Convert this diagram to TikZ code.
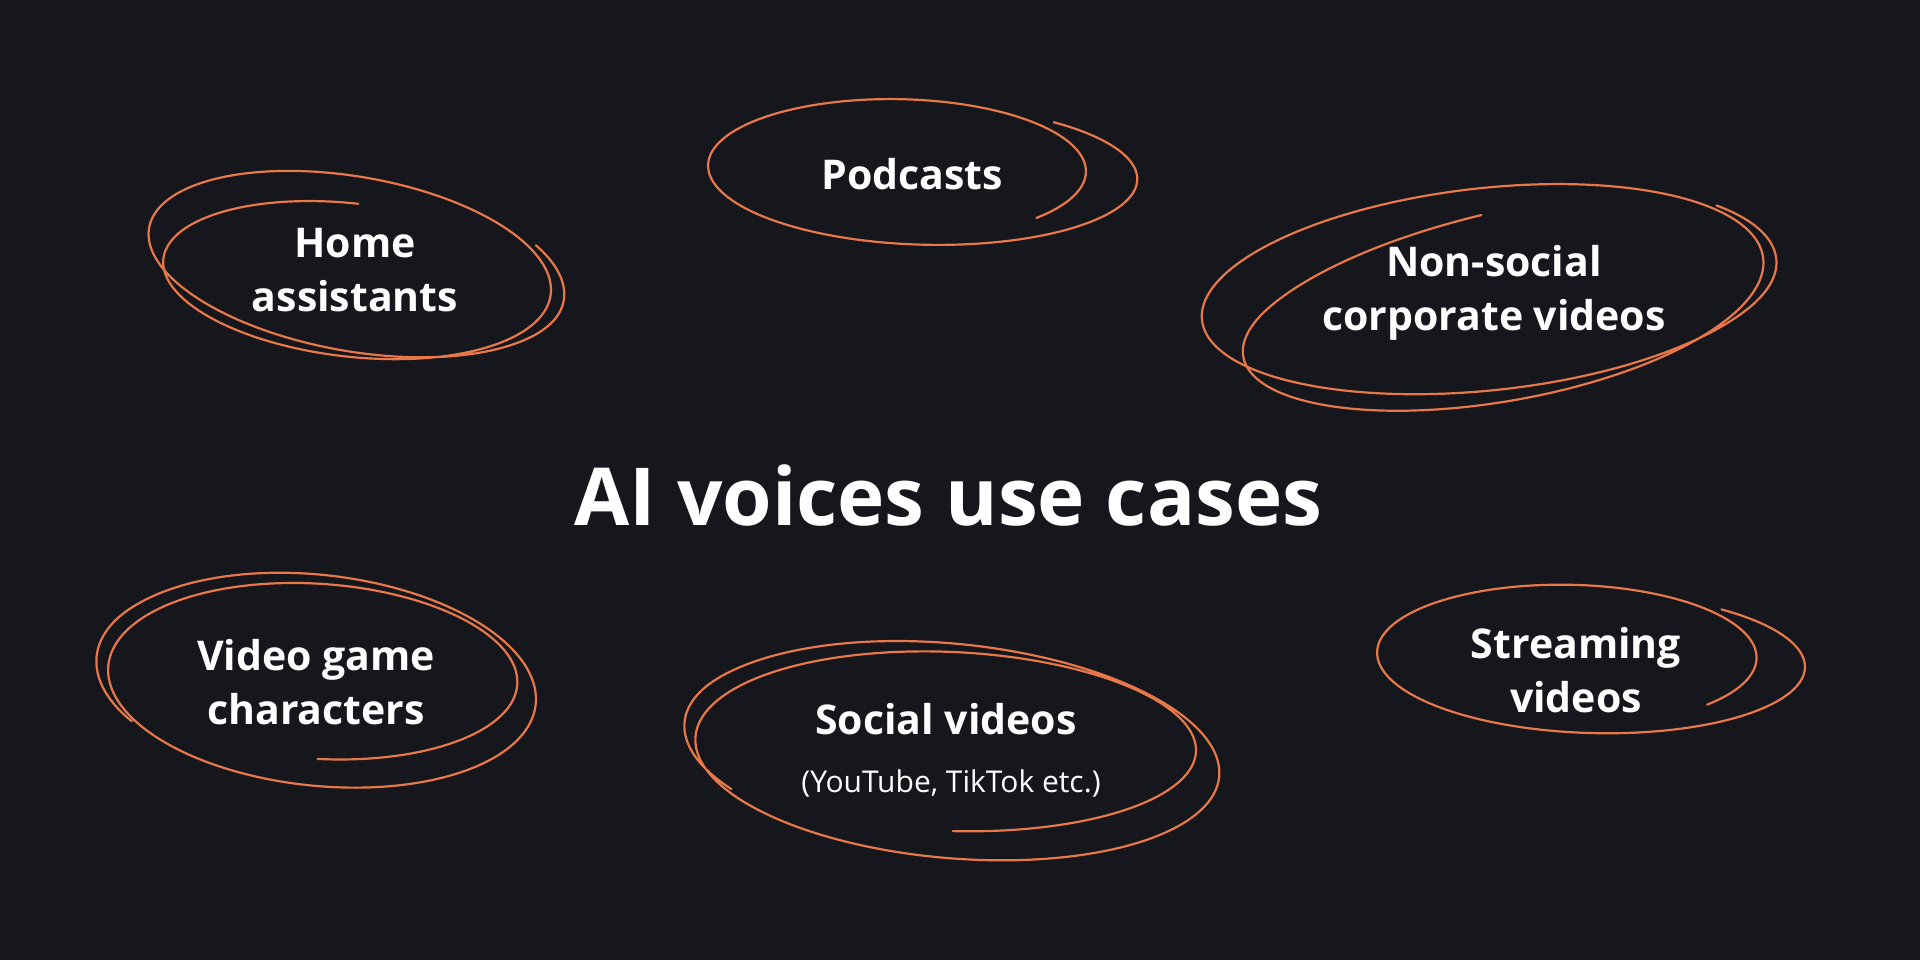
\documentclass[tikz,border=0pt]{standalone}
\usepackage{fontspec}
\setmainfont{Open Sans}
\definecolor{bgdark}{HTML}{15171C}
\definecolor{scribcol}{HTML}{E8784A}
\makeatletter
\def\sc@setA#1,#2,#3,#4,#5\@nil{\def\scXa{#1}\def\scYa{#2}\def\scAa{#3}\def\scBa{#4}\def\scPa{#5}}
\def\sc@setB#1,#2,#3,#4,#5\@nil{\def\scXb{#1}\def\scYb{#2}\def\scAb{#3}\def\scBb{#4}\def\scPb{#5}}
% #1 start params {cx,cy,a,b,rot}, #2 end params, #3 start angle, #4 end angle,
% #5 inward hook at the start, #6 inward hook at the end (smooth quadratic ramps)
\newcommand\scribloop[6]{%
  \sc@setA#1\@nil\sc@setB#2\@nil
  \draw[scrib] plot[domain=0:1, samples=400, variable=\s]
  ({(\scXa)+((\scXb)-(\scXa))*\s
     + (1-(#5)*(max(0,1-\s/0.09))^2-(#6)*(max(0,(\s-0.91)/0.09))^2)*(
       ((\scAa)+((\scAb)-(\scAa))*\s)*cos((#3)+((#4)-(#3))*\s)*cos((\scPa)+((\scPb)-(\scPa))*\s)
     - ((\scBa)+((\scBb)-(\scBa))*\s)*sin((#3)+((#4)-(#3))*\s)*sin((\scPa)+((\scPb)-(\scPa))*\s))},
   {(\scYa)+((\scYb)-(\scYa))*\s
     + (1-(#5)*(max(0,1-\s/0.09))^2-(#6)*(max(0,(\s-0.91)/0.09))^2)*(
       ((\scAa)+((\scAb)-(\scAa))*\s)*cos((#3)+((#4)-(#3))*\s)*sin((\scPa)+((\scPb)-(\scPa))*\s)
     + ((\scBa)+((\scBb)-(\scBa))*\s)*sin((#3)+((#4)-(#3))*\s)*cos((\scPa)+((\scPb)-(\scPa))*\s))});
}
\makeatother
\tikzset{
  scrib/.style={draw=scribcol, line width=2.2pt, line cap=round, line join=round},
  lbl/.style={text=white, align=center, inner sep=0pt, anchor=base,
    font=\fontsize{41}{54}\selectfont\bfseries},
  sublbl/.style={text=white, align=center, inner sep=0pt, anchor=base,
    font=\fontsize{30}{36}\selectfont},
  titlelbl/.style={text=white, align=center, inner sep=0pt, anchor=base,
    font=\fontsize{80}{96}\selectfont\bfseries}
}
\begin{document}
\begin{tikzpicture}[x=1pt, y=-1pt]
\fill[bgdark] (0,0) rectangle (1920,960);
\useasboundingbox (0,0) rectangle (1920,960);

% scribbled loops
\scribloop{351.5,281.5,185,78,5}{356,252,219,97.3,11.7}{-90}{-750}{0}{0.09}
\scribloop{926.5,176,218.5,71,2}{894,168,186,71,2}{-55}{400}{0}{0}
\scribloop{1501,315,252.3,92.6,-11.1}{1480.9,272.8,303.6,114,-4.2}{-90}{-750}{-0.1}{0.1}
\scribloop{318,690,229.7,118,7}{317,673.5,195.7,85.3,2}{150}{810}{0.09}{0}
\scribloop{954.2,761,279.8,119.7,6.7}{949.7,743.5,240.3,87.5,0.7}{150}{810}{0.1}{0}
\scribloop{1594.6,664,217.6,72,2}{1564,654,187,72,2}{-55}{400}{0}{0}

% labels (anchor base = baseline of the last line)
\node[titlelbl] (title) at (948.5,525) {AI voices use cases};
\node[lbl] (home) at (355,311) {Home\\assistants};
\node[lbl] (podcasts) at (912,190) {Podcasts};
\node[lbl] (nonsocial) at (1494,330) {Non-social\\corporate videos};
\node[lbl] (videogame) at (316,724) {Video game\\characters};
\node[lbl] (social) at (946,734) {Social videos};
\node[sublbl] (socialsub) at (951,792) {(YouTube, TikTok etc.)};
\node[lbl] (streaming) at (1576,712) {Streaming\\videos};
\end{tikzpicture}
\end{document}
